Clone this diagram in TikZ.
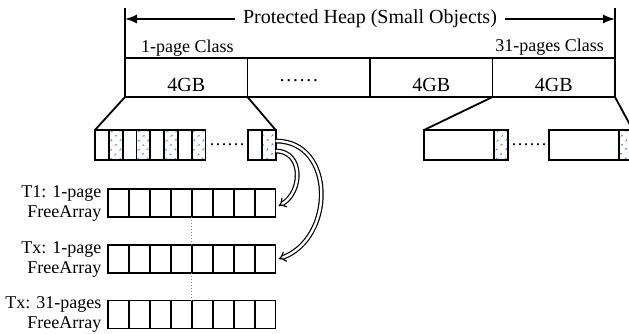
\documentclass[tikz,border=0pt]{standalone}
\usepackage{fontspec}
\setmainfont{Liberation Serif}
\usepackage{tikz}
\usetikzlibrary{arrows.meta, positioning, patterns.meta, calc}
\definecolor{dotblue}{RGB}{60,110,200}

\begin{document}
\begin{tikzpicture}[x=1pt, y=-1pt, >={Latex[length=12pt,width=9pt]}, line width=1.8pt, font=\fontsize{18}{20}\selectfont]
    % Define styles locally
    \tikzstyle{cell} = [draw, rectangle, inner sep=0pt, outer sep=0pt]
    \tikzstyle{bigcell} = [cell, minimum width=122.5pt, minimum height=39pt]
    \tikzstyle{slot} = [cell, minimum width=13.8pt, minimum height=30pt]
    \tikzstyle{wslot} = [slot, minimum width=70pt]
    \tikzstyle{dslot} = [slot, pattern={Dots[distance=6.5pt, angle=45, radius=1.1pt]}, pattern color=dotblue]
    \tikzstyle{entry} = [cell, minimum width=20.9pt, minimum height=28pt]
    \tikzstyle{big} = [font=\fontsize{20}{24}\selectfont]
    \tikzstyle{dblarrow} = [double, double distance=2.4pt, line width=1.2pt, -{Implies[scale=1.2]}]

    \useasboundingbox (0,0) rectangle (629,333);
    \clip (0,0) rectangle (629,333);

    % Heap regions
    \node[bigcell] (c1) at (186.25,77.5) {};
    \node[bigcell, right=0pt of c1] (c2) {};
    \node[bigcell, right=0pt of c2] (c3) {};
    \node[bigcell, right=0pt of c3] (c4) {};
    \node[big, anchor=base] (g1) at ([yshift=-13.5pt]c1.center) {4GB};
    \node[big, anchor=base] (gdots) at ([xshift=-10pt, yshift=-3.5pt]c2.center) {……};
    \node[big, anchor=base] (g3) at ([yshift=-13.5pt]c3.center) {4GB};
    \node[big, anchor=base] (g4) at ([yshift=-13.5pt]c4.center) {4GB};

    % Heap bounds
    \draw (c1.north west) -- ++(0,-50) coordinate (hl);
    \draw (c4.south east) -- ++(0,-89) coordinate (hr);
    \draw[<->, line width=1.5pt] ($(hl)+(0,11)$) -- node[big, fill=white, inner xsep=8pt] (heap) {Protected Heap (Small Objects)} ($(hr)+(0,11)$);
    \node[anchor=base west] (cls1) at (137,52) {1-page Class};
    \node[anchor=base east] (cls31) at (608,51) {31-pages Class};

    % Pages of the 1-page class
    \foreach \i in {1,3,5,7}
        \node[slot] (l\i) at (95+13.8*\i-6.9,145) {};
    \foreach \i in {2,4,6,8}
        \node[dslot] (l\i) at (95+13.8*\i-6.9,145) {};
    \node[anchor=base] (ldots) at (227,145) {……};
    \node[slot] (l9) at (255,145) {};
    \node[dslot, right=0pt of l9] (l10) {};

    % Pages of the 31-pages class
    \node[wslot] (r1) at (459,145) {};
    \node[dslot, right=0pt of r1] (r2) {};
    \node[anchor=base] (rdots) at (529,145) {……};
    \node[wslot] (r3) at (584,145) {};
    \node[dslot, right=0pt of r3] (r4) {};

    % Zoom lines
    \draw (c1.south west) -- (l1.north west);
    \draw (c1.south east) -- (l10.north east);
    \draw (c4.south west) -- (r1.north west);
    \draw (c4.south east) -- (r4.north east);

    % FreeArrays
    \foreach \a/\ya/\txt in {t1/203/{T1: 1-page}, tx/259/{Tx: 1-page}, ty/314.5/{Tx: 31-pages}} {
        \foreach \i in {1,...,8}
            \node[entry] (\a-\i) at (108.3+20.9*\i-10.45,\ya) {};
        \node[left=6pt of \a-1, align=right, inner sep=0pt] (\a-lbl) {\txt\\FreeArray};
    }
    \draw[dotted, gray, line width=1pt] (t1-4.south east) -- (tx-4.north east);
    \draw[dotted, gray, line width=1pt] (tx-4.south east) -- (ty-4.north east);

    % Free pages -> FreeArrays
    \draw[dblarrow] ([yshift=4pt]l10.east) to[out=0, in=20, looseness=1.3] ([xshift=3pt]tx-8.east);
    \draw[dblarrow] ([yshift=-6pt]l10.east) to[out=0, in=30, looseness=1.3] ([xshift=3pt, yshift=-3pt]t1-8.east);

\end{tikzpicture}
\end{document}
